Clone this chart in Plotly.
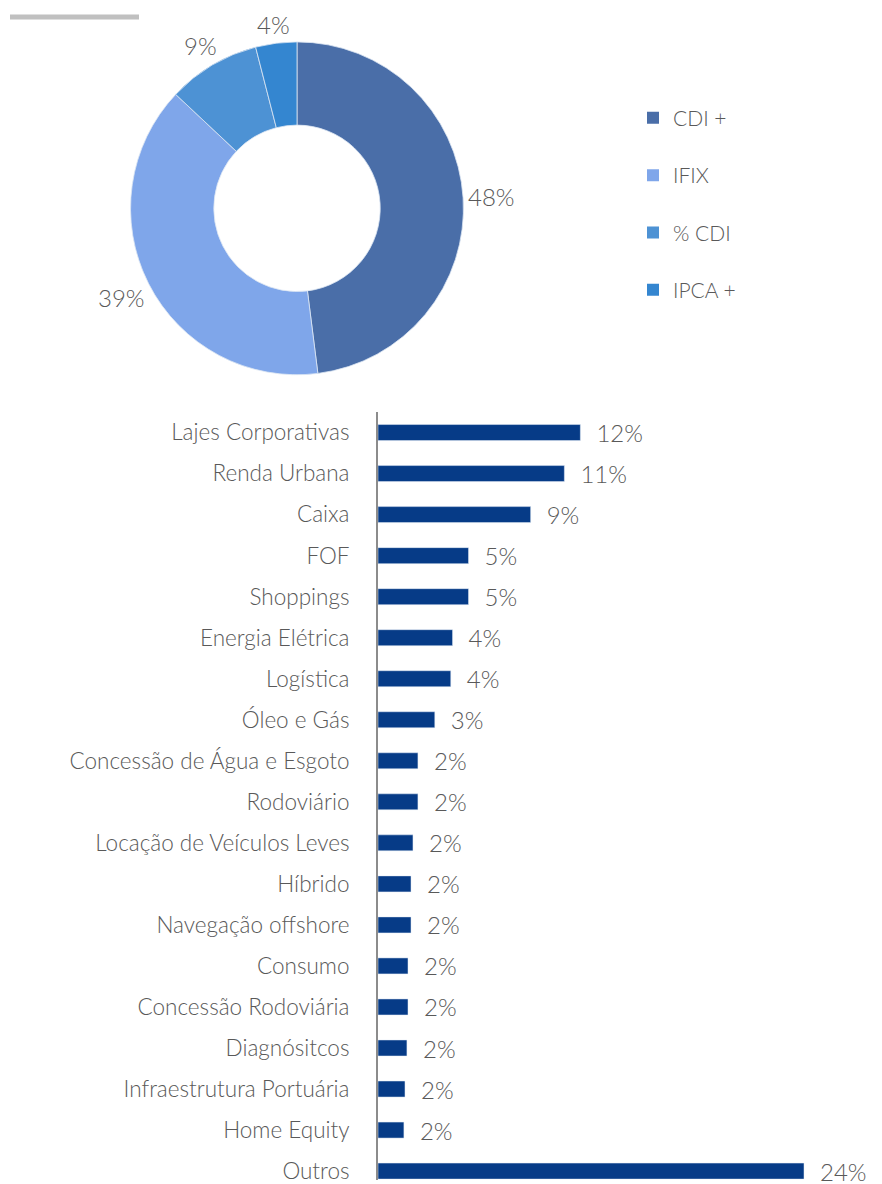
import math
import plotly.graph_objects as go

# page is rendered with an 8px body margin, so figure coords = screen coords - 8
OFF = 8
W, H = 882 - OFF, 1184 - OFF

# ---- data ----
pie_labels = ["CDI +", "IFIX", "% CDI", "IPCA +"]
pie_values = [48, 39, 9, 4]
pie_colors = ["#4a6ea8", "#7fa6ea", "#4d92d4", "#3486d0"]

categories = ["Lajes Corporativas", "Renda Urbana", "Caixa", "FOF", "Shoppings",
              "Energia Elétrica", "Logística", "Óleo e Gás", "Concessão de Água e Esgoto",
              "Rodoviário", "Locação de Veículos Leves", "Híbrido", "Navegação offshore",
              "Consumo", "Concessão Rodoviária", "Diagnósitcos", "Infraestrutura Portuária",
              "Home Equity", "Outros"]
values = [11.4, 10.5, 8.6, 5.1, 5.1, 4.2, 4.1, 3.2, 2.25, 2.25, 1.97, 1.86, 1.86,
          1.69, 1.69, 1.63, 1.52, 1.46, 24.0]
value_labels = ["12%", "11%", "9%", "5%", "5%", "4%", "4%", "3%", "2%", "2%", "2%",
                "2%", "2%", "2%", "2%", "2%", "2%", "2%", "24%"]

FONT = "Lato"
GREY = "#595959"
BAR = "#063b87"


def px(xs):
    return (xs - OFF) / W


def py(ys):
    return 1 - (ys - OFF) / H


fig = go.Figure()

# pie geometry (screen px)
cx, cy, R = 297, 209, 167
fig.add_trace(go.Pie(
    labels=pie_labels, values=pie_values, sort=False, direction="clockwise",
    rotation=0, hole=0.5,
    marker=dict(colors=pie_colors, line=dict(color="#dce6f2", width=0.8)),
    textinfo="none", showlegend=False,
    domain=dict(x=[px(cx - R), px(cx + R)], y=[py(cy + R), py(cy - R)]),
))

# percentage labels placed outside each slice at its mid-angle
PIE_FS = 24
total = sum(pie_values)
cum = 0
annotations = []
for v in pie_values:
    mid = (cum + v / 2) / total * 2 * math.pi
    cum += v
    txt = f"{v/total:.0%}"
    w = 0.62 * PIE_FS * len(txt)
    h = PIE_FS
    s, c = math.sin(mid), math.cos(mid)
    d = R + 5 + abs(s) * w / 2 + abs(c) * h / 2
    lx = cx + d * s
    ly = cy - d * c
    annotations.append(dict(
        x=px(lx), y=py(ly), xref="paper", yref="paper", text=txt,
        showarrow=False, xanchor="center", yanchor="middle",
        font=dict(family=FONT, size=PIE_FS, color=GREY, weight=300)))

fig.add_trace(go.Bar(
    y=categories, x=values, orientation="h", marker=dict(color=BAR),
    width=0.39, text=["  " + t for t in value_labels], textposition="outside",
    constraintext="none",
    textfont=dict(family=FONT, size=24, color=GREY, weight=300), cliponaxis=False,
    showlegend=False,
))

for lab, col in zip(pie_labels, pie_colors):
    fig.add_trace(go.Scatter(
        x=[None], y=[None], mode="markers", name=lab, legendgroup=lab,
        marker=dict(symbol="square", size=12, color=col),
    ))

px_per_unit = 17.75
row = 41.17
axis_x = 378
top_px = 434 - row / 2
idx_bottom = (1184 - 434) / row

fig.update_layout(
    width=W, height=H, margin=dict(l=0, r=0, t=0, b=0),
    paper_bgcolor="white", plot_bgcolor="white",
    font=dict(family=FONT, color=GREY),
    xaxis=dict(domain=[px(axis_x), 1], range=[0, (882 - axis_x) / px_per_unit],
               visible=False, showgrid=False, zeroline=False),
    yaxis=dict(domain=[0, py(top_px)], range=[idx_bottom, -0.5],
               showline=True, linecolor="#8c8c8c", linewidth=2, showgrid=False,
               ticks="", ticklabelstandoff=22,
               tickfont=dict(family=FONT, size=22.5, color=GREY, weight=300)),
    legend=dict(x=px(633), y=py(98), xanchor="left", yanchor="top",
                font=dict(family=FONT, size=21, color=GREY, weight=300),
                tracegroupgap=27, itemwidth=30, bgcolor="rgba(0,0,0,0)"),
    annotations=annotations,
    shapes=[dict(type="line", xref="paper", yref="paper", x0=px(10), x1=px(139),
                 y0=py(17), y1=py(17), line=dict(color="#c0c0c0", width=5))],
)

fig.write_html("out.html")
